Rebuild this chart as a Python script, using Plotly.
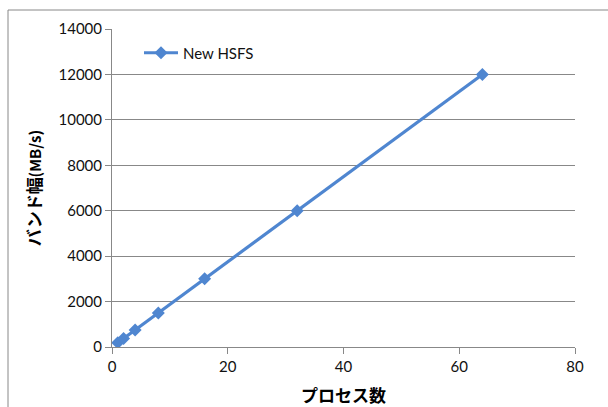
import plotly.graph_objects as go

# Bandwidth scaling of New HSFS against process count
processes = [1, 2, 4, 8, 16, 32, 64]
bandwidth = [188, 375, 750, 1500, 3000, 6000, 12000]
series_name = "New HSFS"
x_title = "プロセス数"
y_title_main = "バンド幅"
y_title_unit = "(MB/s)"

W, H = 608, 407
L, R, T, B = 112, 33, 29, 60
pw, ph = W - L - R, H - T - B

fig = go.Figure()
fig.add_trace(go.Scatter(
    x=processes, y=bandwidth, name=series_name, mode="lines+markers",
    line=dict(color="#4F86D0", width=3.2),
    marker=dict(symbol="diamond", size=10, color="#4F86D0"),
))

tick_font = dict(family="Lato, Liberation Sans, sans-serif", size=15, color="#111")
title_font = dict(family="Noto Sans CJK JP", size=17, color="#000")

fig.update_layout(
    width=W, height=H,
    margin=dict(l=L, r=R, t=T, b=B),
    paper_bgcolor="white", plot_bgcolor="white",
    showlegend=True,
    legend=dict(x=(139 - L) / pw, y=(H - B - 53) / ph, xanchor="left", yanchor="middle",
                font=dict(family="Lato, Liberation Sans, sans-serif", size=15, color="#111"),
                bgcolor="rgba(0,0,0,0)", itemwidth=34),
    xaxis=dict(range=[0, 80], dtick=20, showgrid=False, zeroline=False,
               showline=True, linecolor="#888", linewidth=1,
               ticks="outside", ticklen=6, tickcolor="#888",
               tickfont=tick_font, tickformat="d", automargin=False,
               title=dict(text="<b>" + x_title + "</b>", font=title_font, standoff=20)),
    yaxis=dict(range=[0, 14000], dtick=2000, showgrid=True, gridcolor="#888", gridwidth=1,
               zeroline=False, showline=True, linecolor="#888", linewidth=1,
               ticks="outside", ticklen=6, tickcolor="#888",
               tickfont=tick_font, tickformat="d", automargin=False,
               title=dict(text="<b>" + y_title_main
                               + "<span style='font-size:15px'>" + y_title_unit + "</span></b>",
                          font=title_font, standoff=12)),
    shapes=[dict(type="rect", xref="paper", yref="paper",
                 x0=(8 - L) / pw, x1=1.3, y0=-0.4, y1=(H - B - 10) / ph,
                 line=dict(color="#888", width=1), layer="below")],
)

fig.write_html("out.html")
